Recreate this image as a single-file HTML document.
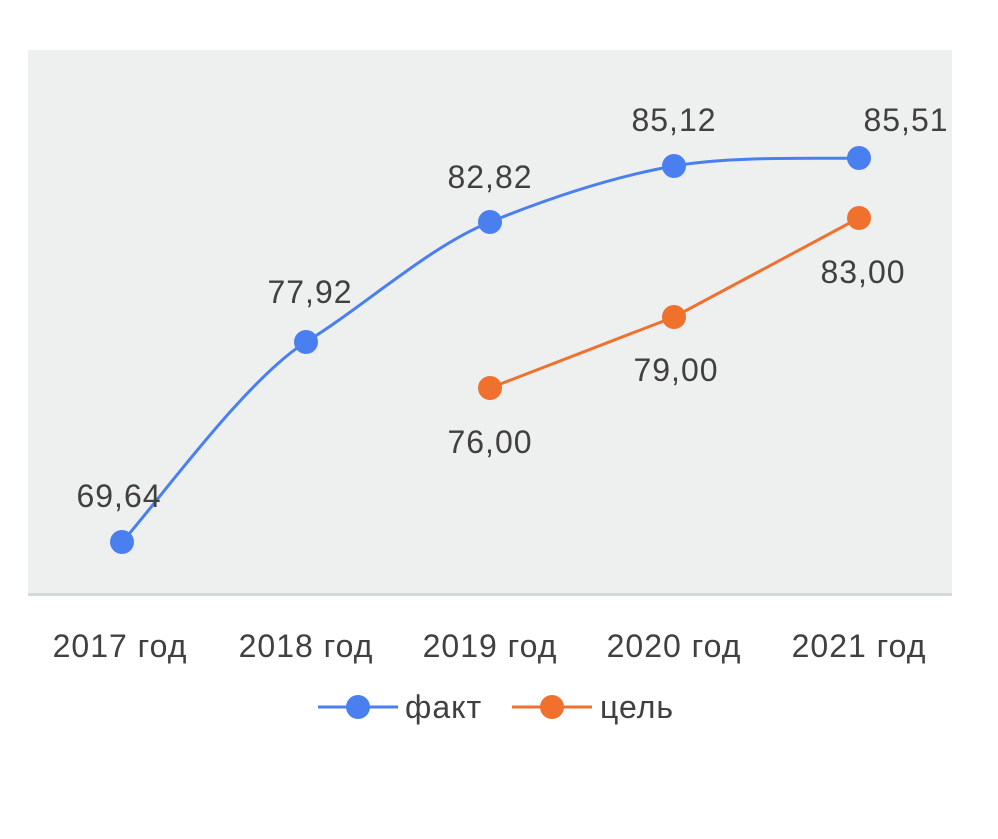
<!DOCTYPE html>
<html><head><meta charset="utf-8"><style>body{margin:0;background:#fff}</style></head>
<body>
<svg width="998" height="834" xmlns="http://www.w3.org/2000/svg" font-family="Liberation Sans, DejaVu Sans, sans-serif" fill="#404040">
<rect x="28" y="50" width="924" height="545" fill="#eef0ef"/>
<rect x="28" y="593" width="924" height="3" fill="#d3d9d7"/>
<path d="M122,542 C152.7,508.7 245.3,379.5 306,342 C366.7,304.5 429,246.7 490,222 C551,197.3 612.5,176.7 674,166 C735.5,155.3 828,159.3 859,158" fill="none" stroke="#4a7ff0" stroke-width="3"/>
<polyline points="490,388 674,317 859,218" fill="none" stroke="#f0702e" stroke-width="3"/>
<g fill="#4a7ff0"><circle cx="122" cy="542" r="12"/><circle cx="306" cy="342" r="12"/><circle cx="490" cy="222" r="12"/><circle cx="674" cy="166" r="12"/><circle cx="859" cy="158" r="12"/></g>
<g fill="#f0702e"><circle cx="490" cy="388" r="12"/><circle cx="674" cy="317" r="12"/><circle cx="859" cy="218" r="12"/></g>
<g font-size="32" text-anchor="middle" letter-spacing="1">
<text x="119" y="507">69,64</text>
<text x="310" y="303">77,92</text>
<text x="490" y="188">82,82</text>
<text x="674" y="131">85,12</text>
<text x="906" y="131">85,51</text>
<text x="490" y="453">76,00</text>
<text x="676" y="381">79,00</text>
<text x="863" y="283">83,00</text>
<text x="120" y="657">2017 год</text>
<text x="306" y="657">2018 год</text>
<text x="490" y="657">2019 год</text>
<text x="674" y="657">2020 год</text>
<text x="859" y="657">2021 год</text>
</g>
<line x1="318" y1="707" x2="398" y2="707" stroke="#4a7ff0" stroke-width="3"/>
<circle cx="358" cy="707" r="12" fill="#4a7ff0"/>
<text x="405" y="718" font-size="32" letter-spacing="1">факт</text>
<line x1="512" y1="707" x2="592" y2="707" stroke="#f0702e" stroke-width="3"/>
<circle cx="552" cy="707" r="12" fill="#f0702e"/>
<text x="600" y="718" font-size="32" letter-spacing="1">цель</text>
</svg>
</body></html>
